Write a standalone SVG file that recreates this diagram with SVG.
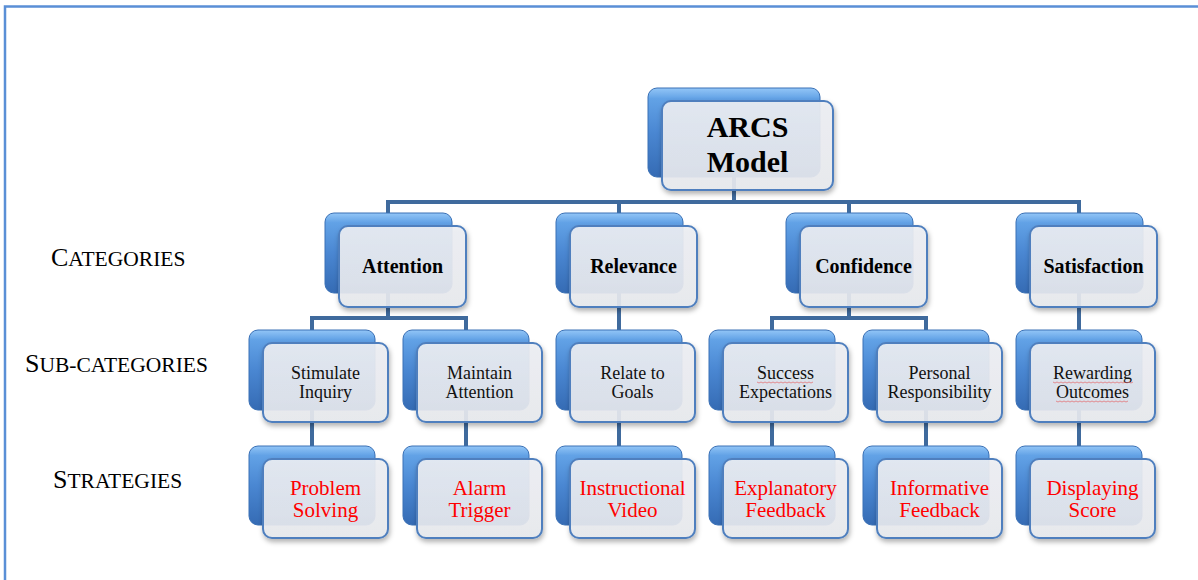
<svg xmlns="http://www.w3.org/2000/svg" width="1198" height="580" viewBox="0 0 1198 580">
<defs>
<linearGradient id="blueG" x1="0" y1="0" x2="0" y2="1">
<stop offset="0" stop-color="#93c6f7"/>
<stop offset="0.12" stop-color="#62a2e6"/>
<stop offset="0.5" stop-color="#4a87d2"/>
<stop offset="1" stop-color="#356bb4"/>
</linearGradient>
<linearGradient id="frontG" x1="0" y1="0" x2="0" y2="1">
<stop offset="0" stop-color="#eef0f4"/>
<stop offset="1" stop-color="#e8eaef"/>
</linearGradient>
<filter id="sh" x="-10%" y="-10%" width="125%" height="130%">
<feDropShadow dx="1" dy="3" stdDeviation="2.5" flood-color="#000" flood-opacity="0.32"/>
</filter>
</defs>
<style>
.back{fill:url(#blueG);stroke:#3a70b5;stroke-width:1}
.front{fill:url(#frontG);fill-opacity:0.9;stroke:#4f7fbe;stroke-width:2;filter:url(#sh)}
.conn{fill:none;stroke:#3f6a9d;stroke-width:4}
.t1{font-family:"Liberation Serif","Times New Roman",serif;font-weight:bold;font-size:20px;fill:#000;text-anchor:middle}
.t2{font-family:"Liberation Serif","Times New Roman",serif;font-size:18px;fill:#111;text-anchor:middle}
.t3{font-family:"Liberation Serif","Times New Roman",serif;font-size:21px;fill:#ff0000;text-anchor:middle}
.lab{font-family:"Liberation Serif","Times New Roman",serif;fill:#000}
.big{font-size:26px}
.sm{font-size:21.5px}
.sq{fill:none;stroke:#e45a5a;stroke-width:0.8;opacity:0.8}
</style>
<rect x="0" y="0" width="1198" height="580" fill="#fff"/>
<path d="M5,580 V6.5 H1198" fill="none" stroke="#5a8fd6" stroke-width="2.5"/>

<g id="labels">
<text class="lab" x="51" y="266"><tspan class="big">C</tspan><tspan class="sm">ATEGORIES</tspan></text>
<text class="lab" x="25" y="372"><tspan class="big">S</tspan><tspan class="sm">UB-CATEGORIES</tspan></text>
<text class="lab" x="53" y="488"><tspan class="big">S</tspan><tspan class="sm">TRATEGIES</tspan></text>
</g>

<g id="connectors">
<path class="conn" d="M734,177 V202"/>
<path class="conn" d="M388,213 V202 H1079 V213 M619,202 V213 M849,202 V213"/>
<path class="conn" d="M388,293 V318 M312,330 V318 H466 V330"/>
<path class="conn" d="M619,293 V330"/>
<path class="conn" d="M849,293 V318 M772,330 V318 H926 V330"/>
<path class="conn" d="M1079,293 V330"/>
<path class="conn" d="M312,410 V446 M466,410 V446 M619,410 V446 M772,410 V446 M926,410 V446 M1079,410 V446"/>
</g>

<g id="arcs">
<rect class="back" x="648" y="88" width="172" height="89" rx="9"/>
<rect class="front" x="662" y="101" width="171" height="89" rx="9"/>
<text class="t1" x="747.5" y="137" style="font-size:30px">ARCS</text>
<text class="t1" x="747.5" y="172" style="font-size:30px">Model</text>
</g>

<g id="attention">
<rect class="back" x="325" y="213" width="127" height="80" rx="9"/>
<rect class="front" x="339" y="226" width="127" height="81" rx="9"/>
<text class="t1" x="402.5" y="273">Attention</text>
</g>
<g id="relevance">
<rect class="back" x="556" y="213" width="127" height="80" rx="9"/>
<rect class="front" x="570" y="226" width="127" height="81" rx="9"/>
<text class="t1" x="633.5" y="273">Relevance</text>
</g>
<g id="confidence">
<rect class="back" x="786" y="213" width="127" height="80" rx="9"/>
<rect class="front" x="800" y="226" width="127" height="81" rx="9"/>
<text class="t1" x="863.5" y="273">Confidence</text>
</g>
<g id="satisfaction">
<rect class="back" x="1016" y="213" width="127" height="80" rx="9"/>
<rect class="front" x="1030" y="226" width="127" height="81" rx="9"/>
<text class="t1" x="1093.5" y="273">Satisfaction</text>
</g>

<g id="stimulate-inquiry">
<rect class="back" x="249" y="330" width="126" height="80" rx="9"/>
<rect class="front" x="263" y="343" width="125" height="79" rx="9"/>
<text class="t2" x="325.5" y="379">Stimulate</text>
<text class="t2" x="325.5" y="398">Inquiry</text>
</g>
<g id="maintain-attention">
<rect class="back" x="403" y="330" width="126" height="80" rx="9"/>
<rect class="front" x="417" y="343" width="125" height="79" rx="9"/>
<text class="t2" x="479.5" y="379">Maintain</text>
<text class="t2" x="479.5" y="398">Attention</text>
</g>
<g id="relate-to-goals">
<rect class="back" x="556" y="330" width="126" height="80" rx="9"/>
<rect class="front" x="570" y="343" width="125" height="79" rx="9"/>
<text class="t2" x="632.5" y="379">Relate to</text>
<text class="t2" x="632.5" y="398">Goals</text>
</g>
<g id="success-expectations">
<rect class="back" x="709" y="330" width="126" height="80" rx="9"/>
<rect class="front" x="723" y="343" width="125" height="79" rx="9"/>
<text class="t2" x="785.5" y="379">Success</text>
<text class="t2" x="785.5" y="398">Expectations</text>
<path class="sq" d="M757,382 l2,1 2,-1 2,1 2,-1 2,1 2,-1 2,1 2,-1 2,1 2,-1 2,1 2,-1 2,1 2,-1 2,1 2,-1 2,1 2,-1 2,1 2,-1 2,1 2,-1 2,1 2,-1 2,1 2,-1 2,1 2,-1"/>
</g>
<g id="personal-responsibility">
<rect class="back" x="863" y="330" width="126" height="80" rx="9"/>
<rect class="front" x="877" y="343" width="125" height="79" rx="9"/>
<text class="t2" x="939.5" y="379">Personal</text>
<text class="t2" x="939.5" y="398">Responsibility</text>
</g>
<g id="rewarding-outcomes">
<rect class="back" x="1016" y="330" width="126" height="80" rx="9"/>
<rect class="front" x="1030" y="343" width="125" height="79" rx="9"/>
<text class="t2" x="1092.5" y="379">Rewarding</text>
<text class="t2" x="1092.5" y="398">Outcomes</text>
<path class="sq" d="M1053,382 l2,1 2,-1 2,1 2,-1 2,1 2,-1 2,1 2,-1 2,1 2,-1 2,1 2,-1 2,1 2,-1 2,1 2,-1 2,1 2,-1 2,1 2,-1 2,1 2,-1 2,1 2,-1 2,1 2,-1 2,1 2,-1 2,1 2,-1 2,1 2,-1 2,1 2,-1 2,1 2,-1 2,1 2,-1 2,1 2,-1"/>
<path class="sq" d="M1056,401 l2,1 2,-1 2,1 2,-1 2,1 2,-1 2,1 2,-1 2,1 2,-1 2,1 2,-1 2,1 2,-1 2,1 2,-1 2,1 2,-1 2,1 2,-1 2,1 2,-1 2,1 2,-1 2,1 2,-1 2,1 2,-1 2,1 2,-1 2,1 2,-1 2,1 2,-1 2,1 2,-1"/>
</g>

<g id="problem-solving">
<rect class="back" x="249" y="446" width="126" height="79" rx="9"/>
<rect class="front" x="263" y="459" width="125" height="79" rx="9"/>
<text class="t3" x="325.5" y="495">Problem</text>
<text class="t3" x="325.5" y="517">Solving</text>
</g>
<g id="alarm-trigger">
<rect class="back" x="403" y="446" width="126" height="79" rx="9"/>
<rect class="front" x="417" y="459" width="125" height="79" rx="9"/>
<text class="t3" x="479.5" y="495">Alarm</text>
<text class="t3" x="479.5" y="517">Trigger</text>
</g>
<g id="instructional-video">
<rect class="back" x="556" y="446" width="126" height="79" rx="9"/>
<rect class="front" x="570" y="459" width="125" height="79" rx="9"/>
<text class="t3" x="632.5" y="495">Instructional</text>
<text class="t3" x="632.5" y="517">Video</text>
</g>
<g id="explanatory-feedback">
<rect class="back" x="709" y="446" width="126" height="79" rx="9"/>
<rect class="front" x="723" y="459" width="125" height="79" rx="9"/>
<text class="t3" x="785.5" y="495">Explanatory</text>
<text class="t3" x="785.5" y="517">Feedback</text>
</g>
<g id="informative-feedback">
<rect class="back" x="863" y="446" width="126" height="79" rx="9"/>
<rect class="front" x="877" y="459" width="125" height="79" rx="9"/>
<text class="t3" x="939.5" y="495">Informative</text>
<text class="t3" x="939.5" y="517">Feedback</text>
</g>
<g id="displaying-score">
<rect class="back" x="1016" y="446" width="126" height="79" rx="9"/>
<rect class="front" x="1030" y="459" width="125" height="79" rx="9"/>
<text class="t3" x="1092.5" y="495">Displaying</text>
<text class="t3" x="1092.5" y="517">Score</text>
</g>
</svg>
